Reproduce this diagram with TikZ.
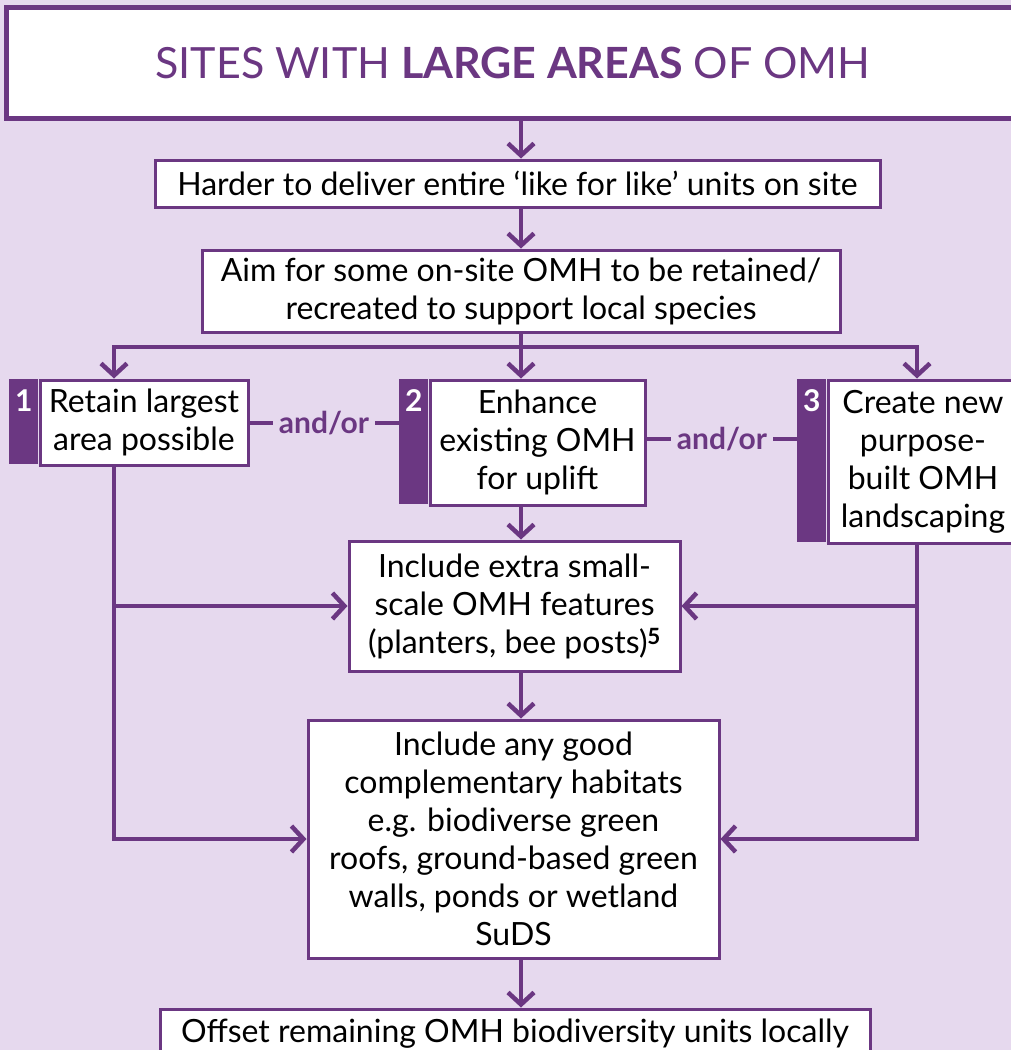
\documentclass[tikz,border=0pt]{standalone}
\usepackage{fontspec}
\setmainfont{Lato}
\usetikzlibrary{arrows.meta,positioning}
\definecolor{omhpurple}{RGB}{107,55,130}
\definecolor{omhback}{RGB}{230,217,238}
\tikzset{minimum size=0pt}

\begin{document}
\begin{tikzpicture}[x=1pt,y=-1pt,
    box/.style={draw=omhpurple,line width=3pt,fill=white,inner sep=0pt,align=center,
        font=\fontsize{32}{38}\selectfont},
    tab/.style={fill=omhpurple,minimum width=29pt,inner sep=0pt},
    num/.style={text=white,inner sep=0pt,font=\fontsize{30}{30}\selectfont\bfseries},
    conn/.style={draw=omhpurple,line width=4.5pt},
    arr/.style={conn,-{Straight Barb[length=12pt,width=26pt]}},
    andor/.style={text=omhpurple,inner sep=6pt,font=\fontsize{30}{30}\selectfont\bfseries}]
    \useasboundingbox (0,0) rectangle (1011,1050);
    \fill[omhback] (0,0) rectangle (1011,1050);

    % x positions of the vertical lines
    \coordinate (trunk) at (521,0);
    \coordinate (leftx) at (114,0);
    \coordinate (rightx) at (917,0);
    \coordinate (split) at (521,347);

    \node[box,line width=5pt,minimum width=1014pt,minimum height=111pt,text=omhpurple,
        font=\fontsize{43}{50}\selectfont] (title) at (513,62.5) {SITES WITH \textbf{LARGE AREAS} OF OMH};
    \node[box,minimum width=725pt,minimum height=47pt] (harder) at (517.5,183.5)
        {Harder to deliver entire ‘like for like’ units on site};
    \node[box,minimum width=638pt,minimum height=82pt] (aim) at (521,291)
        {Aim for some on-site OMH to be retained/\\recreated to support local species};

    \node[box,minimum width=208pt,minimum height=85pt] (retain) at (144,422.5)
        {Retain largest\\area possible};
    \node[box,minimum width=215pt,minimum height=125pt] (enhance) at (537.5,442.5)
        {Enhance\\existing OMH\\for uplift};
    \node[box,minimum width=190pt,minimum height=163pt] (create) at (923,461.5)
        {Create new\\purpose-\\built OMH\\landscaping};

    \node[tab,minimum height=85pt,anchor=north east] (tab1) at (retain.north west) {};
    \node[tab,minimum height=125pt,anchor=north east] (tab2) at (enhance.north west) {};
    \node[tab,minimum height=163pt,anchor=north east] (tab3) at (create.north west) {};
    \node[num] (n1) at ([yshift=-22pt]tab1.north) {1};
    \node[num] (n2) at ([yshift=-22pt]tab2.north) {2};
    \node[num] (n3) at ([yshift=-22pt]tab3.north) {3};

    \node[andor] (ao1) at (324,423) {and/or};
    \node[andor] (ao2) at (722,439) {and/or};

    \node[box,minimum width=331pt,minimum height=130pt] (extra) at (514.5,606)
        {Include extra small-\\scale OMH features\\(planters, bee posts)\textsuperscript{\bfseries 5}};
    \node[box,minimum width=411pt,minimum height=238pt] (good) at (513.5,839)
        {Include any good\\complementary habitats\\e.g. biodiverse green\\roofs, ground-based green\\walls, ponds or wetland\\SuDS};
    \node[box,minimum width=710pt,minimum height=62pt,text height=24pt,text depth=20pt] (offset) at (515,1040)
        {Offset remaining OMH biodiversity units locally};

    % main line down the middle
    \draw[arr] (title.south -| trunk) -- (harder.north -| trunk);
    \draw[arr] (harder.south -| trunk) -- (aim.north -| trunk);
    \draw[arr] (aim.south -| trunk) -- (enhance.north -| trunk);
    \draw[arr] (split) -| (retain.north -| leftx);
    \draw[arr] (split) -| (create.north -| rightx);
    \draw[arr] (enhance.south -| trunk) -- (extra.north -| trunk);
    \draw[arr] (extra.south -| trunk) -- (good.north -| trunk);
    \draw[arr] (good.south -| trunk) -- (offset.north -| trunk);

    % and/or links
    \draw[conn] (retain.east |- ao1) -- (ao1.west);
    \draw[conn] (ao1.east) -- (tab2.west |- ao1);
    \draw[conn] (enhance.east |- ao2) -- (ao2.west);
    \draw[conn] (ao2.east) -- (tab3.west |- ao2);

    % side lines
    \draw[arr] (retain.south -| leftx) |- (good.west);
    \draw[arr] (extra.west -| leftx) -- (extra.west);
    \draw[arr] (create.south -| rightx) |- (good.east);
    \draw[arr] (extra.east -| rightx) -- (extra.east);
\end{tikzpicture}
\end{document}
